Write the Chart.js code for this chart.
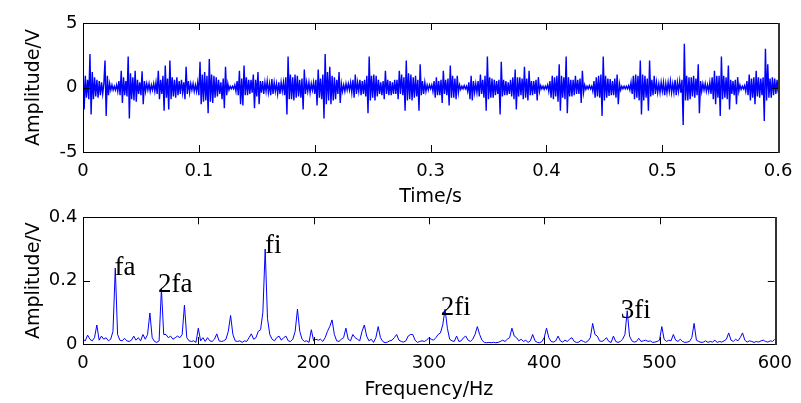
<!DOCTYPE html>
<html>
<head>
<meta charset="utf-8">
<script src="https://cdn.jsdelivr.net/npm/chart.js@4"></script>
<style>
  html, body { margin: 0; padding: 0; background: #fff; }
  #wrap { position: relative; width: 801px; height: 403px; overflow: hidden; }
  #wave, #spec { position: absolute; left: 0; }
  #wave { top: 0; }
  #spec { top: 200px; }
</style>
</head>
<body>
<div id="wrap">
  <canvas id="wave" width="801" height="210"></canvas>
  <canvas id="spec" width="801" height="203"></canvas>
</div>
<script>
// time signal, one sample per millisecond (0 .. 0.6 s)
const sampleTime = 0.001;
const amplitude = [
  1.6,-1.7,0.9,-0.8,0.6,-0.9,2.6,-2.1,1.2,-0.9,
  0.8,-0.7,0.6,-0.8,0.5,-0.6,0.4,-0.5,0.3,2.1,
  -2.2,0.9,-0.6,0.3,-0.2,0.2,-0.2,0.1,-0.2,0.2,
  -0.3,0.5,-0.6,1.3,-1.2,0.8,-0.6,0.5,-0.7,2.4,
  -2.4,1.1,-0.9,0.8,-1.0,1.3,-1.1,0.6,-0.5,0.4,
  -0.6,1.25,-1.3,0.5,-0.3,0.3,-0.2,0.3,-0.3,0.2,
  -0.2,0.3,-0.3,0.4,-0.5,1.3,-0.9,0.6,-0.5,0.9,
  -1.8,1.7,-0.8,0.7,-1.7,2.1,-0.9,0.8,-0.7,0.6,
  -0.8,0.8,-0.6,0.5,-0.5,0.6,-0.4,0.4,-0.9,1.6,
  -0.5,0.5,-0.4,0.3,-0.2,0.3,-0.3,0.2,-0.3,0.4,
  -0.6,2.0,-1.3,1.0,-1.1,1.2,-1.0,0.9,-2.0,2.2,
  -1.1,1.0,-1.2,0.9,-0.8,0.8,-0.7,0.6,-0.5,0.4,
  -0.9,0.7,-1.6,1.6,-0.6,0.3,-0.2,0.1,-0.1,0.1,
  -0.1,0.2,-0.3,0.5,-0.6,1.3,-1.3,0.7,-1.4,1.7,
  -0.6,0.8,-0.6,0.6,-0.5,0.6,-0.4,1.0,-1.6,0.6,
  -0.7,1.2,-1.3,0.5,-0.4,0.5,-0.5,0.4,-0.3,0.5,
  -0.4,0.3,-0.6,0.65,-0.5,0.4,-0.3,0.3,-0.5,0.4,
  -0.5,0.4,-0.3,0.4,-0.6,0.8,-2.1,2.4,-0.9,1.0,
  -0.9,0.8,-1.0,1.0,-0.8,0.9,-0.7,0.6,-0.8,0.7,
  -1.7,1.4,-0.5,0.4,-0.3,0.4,-0.4,0.3,-0.2,0.4,
  -0.5,0.6,-1.4,1.4,-0.8,0.7,-0.9,1.0,-2.4,2.6,
  -1.3,1.2,-1.0,1.6,-1.3,0.9,-1.0,0.8,-0.9,0.6,
  -0.5,1.2,-1.2,0.3,-0.3,0.2,-0.3,0.3,-0.2,0.3,
  -0.2,0.4,-0.4,0.6,-0.8,1.0,-0.5,0.4,-0.3,0.6,
  -0.6,0.5,-0.5,0.6,-0.7,0.9,-2.0,2.4,-1.0,0.9,
  -0.8,1.0,-1.0,0.9,-0.7,0.6,-0.5,0.4,-0.6,0.5,
  -0.9,1.3,-0.5,0.6,-0.6,0.5,-0.6,0.4,-0.5,0.6,
  -0.5,0.6,-0.9,1.3,-0.5,1.0,-0.6,0.8,-1.8,2.1,
  -1.0,1.1,-0.9,1.0,-1.0,0.8,-0.8,0.9,-0.7,0.6,
  -1.8,1.8,-0.6,0.5,-0.5,0.4,-0.3,0.2,-0.2,0.2,
  -0.1,0.2,-0.3,0.5,-0.8,0.8,-0.6,0.5,-0.6,0.6,
  -1.2,1.3,-0.5,0.6,-0.6,0.7,-1.4,1.7,-0.8,0.9,
  -0.8,0.7,-0.9,0.9,-0.4,0.2,-0.15,0.1,-0.1,0.15,
  -0.1,0.1,-0.3,0.4,-0.9,0.9,-1.0,0.5,-0.4,0.3,
  -0.4,0.5,-0.7,1.0,-0.5,0.6,-0.8,0.9,-1.8,2.4,
  -0.9,0.8,-0.8,0.7,-0.8,0.6,-0.6,0.5,-0.5,0.6,
  -2.1,2.0,-0.7,0.6,-0.6,0.5,-0.6,0.4,-0.5,0.6,
  -0.7,0.8,-0.9,1.4,-1.7,0.8,-0.7,0.8,-0.6,0.7,
  -0.9,1.6,-0.8,0.7,-1.0,1.3,-0.6,0.5,-0.6,0.5,
  -0.5,0.6,-1.0,0.8,-0.3,0.15,-0.1,0.1,-0.15,0.1,
  -0.1,0.2,-0.3,0.5,-0.8,0.9,-0.9,0.8,-0.7,0.9,
  -1.1,1.8,-1.8,0.9,-0.8,0.8,-0.9,2.4,-2.0,0.8,
  -0.7,0.6,-0.7,0.6,-0.6,0.9,-0.5,0.6,-0.5,0.7,
  -1.2,1.3,-0.4,0.2,-0.15,0.1,-0.1,0.15,-0.1,0.1,
  -0.3,0.5,-0.8,0.8,-0.7,0.9,-0.8,1.0,-2.2,2.4,
  -1.0,0.9,-0.8,0.7,-0.65,0.65,-0.6,0.5,-0.6,0.7,
  -0.8,1.0,-1.3,0.3,-0.2,0.1,-0.1,0.1,-0.1,0.1,
  -0.1,0.15,-0.2,0.4,-0.5,0.9,-0.9,1.0,-0.8,0.9,
  -1.0,2.1,-2.1,1.0,-1.0,0.9,-0.8,0.7,-1.8,2.1,
  -0.7,0.6,-0.6,0.9,-0.5,0.4,-0.4,0.3,-0.4,0.4,
  -0.3,0.4,-0.6,0.3,-0.4,0.4,-0.3,0.5,-0.4,0.3,
  -0.4,0.6,-0.6,0.4,-0.3,0.5,-0.4,0.6,-2.9,3.4,
  -1.0,0.9,-1.0,0.8,-0.9,0.8,-0.7,0.9,-0.8,0.7,
  -0.6,1.8,-2.0,0.5,-0.3,0.3,-0.2,0.3,-0.3,0.2,
  -0.3,0.4,-0.5,0.8,-0.9,1.3,-1.3,0.9,-0.8,0.9,
  -2.2,2.4,-0.9,0.9,-0.8,0.8,-0.9,1.7,-1.7,0.6,
  -0.5,0.5,-0.6,0.6,-1.3,0.8,-0.3,0.2,-0.15,0.1,
  -0.1,0.15,-0.3,0.5,-0.6,1.0,-1.0,0.7,-0.8,0.8,
  -1.3,1.3,-0.7,0.8,-0.8,0.7,-0.6,0.8,-2.6,3.0,
  -1.0,1.8,-0.8,0.7,-0.8,0.8,-0.6,0.7,-0.5,0.6,
  -0.4
];

// amplitude spectrum, 2 Hz bins (0 .. 600 Hz)
const freqStep = 2;
const spectrum = [
  0.015,0.01,0.028,0.015,0.01,0.02,0.06,0.012,0.025,0.015,
  0.02,0.01,0.015,0.04,0.24,0.03,0.012,0.01,0.018,0.01,
  0.008,0.012,0.025,0.012,0.02,0.01,0.03,0.015,0.03,0.098,
  0.02,0.008,0.005,0.01,0.175,0.03,0.03,0.02,0.025,0.015,
  0.02,0.025,0.02,0.03,0.123,0.02,0.01,0.008,0.01,0.005,
  0.05,0.01,0.02,0.008,0.02,0.01,0.008,0.015,0.032,0.01,
  0.008,0.01,0.015,0.04,0.09,0.03,0.01,0.008,0.01,0.005,
  0.01,0.008,0.02,0.032,0.015,0.02,0.04,0.045,0.1,0.30,
  0.08,0.03,0.015,0.01,0.02,0.025,0.012,0.02,0.025,0.01,
  0.008,0.015,0.04,0.11,0.04,0.015,0.008,0.01,0.005,0.045,
  0.01,0.015,0.012,0.015,0.008,0.02,0.04,0.055,0.076,0.03,
  0.01,0.008,0.015,0.02,0.05,0.015,0.01,0.03,0.02,0.015,
  0.01,0.04,0.06,0.025,0.01,0.015,0.005,0.02,0.055,0.02,
  0.008,0.004,0.006,0.01,0.012,0.02,0.03,0.012,0.008,0.006,
  0.01,0.025,0.03,0.03,0.012,0.005,0.008,0.01,0.008,0.012,
  0.02,0.015,0.012,0.02,0.03,0.035,0.06,0.11,0.05,0.015,
  0.01,0.008,0.025,0.008,0.01,0.02,0.025,0.012,0.008,0.015,
  0.03,0.055,0.03,0.012,0.005,0.004,0.005,0.004,0.005,0.004,
  0.005,0.008,0.012,0.008,0.015,0.02,0.05,0.025,0.02,0.01,
  0.015,0.008,0.012,0.005,0.01,0.03,0.01,0.005,0.004,0.008,
  0.02,0.05,0.02,0.008,0.006,0.01,0.025,0.01,0.006,0.012,
  0.008,0.015,0.02,0.008,0.005,0.006,0.012,0.008,0.005,0.01,
  0.02,0.065,0.03,0.025,0.01,0.008,0.012,0.02,0.008,0.005,
  0.025,0.008,0.005,0.008,0.015,0.03,0.105,0.025,0.01,0.006,
  0.008,0.018,0.008,0.01,0.012,0.008,0.01,0.005,0.006,0.008,
  0.012,0.055,0.015,0.008,0.012,0.01,0.03,0.012,0.008,0.015,
  0.008,0.005,0.006,0.008,0.02,0.065,0.012,0.008,0.005,0.006,
  0.01,0.005,0.008,0.006,0.012,0.005,0.008,0.006,0.01,0.015,
  0.035,0.012,0.008,0.015,0.01,0.02,0.035,0.012,0.006,0.01,
  0.008,0.005,0.008,0.006,0.01,0.012,0.008,0.006,0.01,0.008,
  0.015
];

// axis ticks
const timeTicks = [0, 0.1, 0.2, 0.3, 0.4, 0.5, 0.6];
const waveTicks = [-5, 0, 5];
const freqTicks = [0, 100, 200, 300, 400, 500, 600];
const specTicks = [0, 0.2, 0.4];

// characteristic frequency labels (text anchor in data units)
const peakNames = ['fa', '2fa', 'fi', '2fi', '3fi'];
const peakLabelHz = [27.4, 65.1, 157.8, 310.3, 466.3];
const peakLabelAmp = [0.218, 0.165, 0.287, 0.092, 0.082];

const SANS = "'DejaVu Sans', sans-serif";
const tickFont = { family: SANS, size: 18, lineHeight: 1.2 };
const titleFont = { family: SANS, size: 19, lineHeight: 1.2 };

// MATLAB-like box with inward ticks on all four sides
const boxTicks = {
  id: 'boxTicks',
  afterDraw(chart) {
    const { ctx, chartArea: a, scales: { x, y } } = chart;
    const len = 7;
    ctx.save();
    ctx.strokeStyle = '#000';
    ctx.lineWidth = 1;
    ctx.beginPath();
    x.ticks.forEach(t => {
      const px = Math.round(x.getPixelForValue(t.value)) + 0.5;
      ctx.moveTo(px, a.bottom); ctx.lineTo(px, a.bottom - len);
      ctx.moveTo(px, a.top); ctx.lineTo(px, a.top + len);
    });
    y.ticks.forEach(t => {
      const py = Math.round(y.getPixelForValue(t.value)) + 0.5;
      ctx.moveTo(a.left, py); ctx.lineTo(a.left + len, py);
      ctx.moveTo(a.right, py); ctx.lineTo(a.right - len, py);
    });
    ctx.stroke();
    ctx.beginPath();
    ctx.moveTo(a.right, Math.round(a.top) + 0.5);
    ctx.lineTo(Math.round(a.left) + 0.5, Math.round(a.top) + 0.5);
    ctx.lineTo(Math.round(a.left) + 0.5, Math.round(a.bottom) + 0.5);
    ctx.lineTo(a.right, Math.round(a.bottom) + 0.5);
    ctx.stroke();
    ctx.lineWidth = 2;
    ctx.strokeStyle = '#333';
    ctx.beginPath();
    ctx.moveTo(Math.round(a.right) + 1, Math.round(a.top));
    ctx.lineTo(Math.round(a.right) + 1, Math.round(a.bottom) + 1);
    ctx.stroke();
    ctx.restore();
  }
};

const peakLabels = {
  id: 'peakLabels',
  afterDatasetsDraw(chart) {
    const { ctx, scales: { x, y } } = chart;
    ctx.save();
    ctx.font = "27px 'Liberation Serif', serif";
    ctx.fillStyle = '#000';
    ctx.textAlign = 'left';
    ctx.textBaseline = 'alphabetic';
    peakNames.forEach((name, i) => {
      ctx.fillText(name, x.getPixelForValue(peakLabelHz[i]), y.getPixelForValue(peakLabelAmp[i]));
    });
    ctx.restore();
  }
};

function axes(xr, yr, xTicks, yTicks, xTitle, xHeight, xPad, titlePadBottom) {
  return {
    x: {
      type: 'linear', min: xr[0], max: xr[1],
      afterBuildTicks: s => { s.ticks = xTicks.map(v => ({ value: v })); },
      afterFit: s => { s.height = xHeight; },
      grid: { display: false, drawTicks: false },
      border: { display: false },
      ticks: { font: tickFont, color: '#000', padding: xPad, maxRotation: 0, callback: v => String(v) },
      title: { display: true, text: xTitle, font: titleFont, color: '#000', padding: { top: 0, bottom: titlePadBottom } }
    },
    y: {
      type: 'linear', min: yr[0], max: yr[1],
      afterBuildTicks: s => { s.ticks = yTicks.map(v => ({ value: v })); },
      afterFit: s => { s.width = 83; },
      grid: { display: false, drawTicks: false },
      border: { display: false },
      ticks: { font: tickFont, color: '#000', padding: 5.5, callback: v => String(v) },
      title: { display: true, text: 'Amplitude/V', font: titleFont, color: '#000', padding: { top: 22.6, bottom: 0 } }
    }
  };
}

const common = {
  responsive: false,
  animation: false,
  events: [],
  plugins: { legend: { display: false }, tooltip: { enabled: false } },
  elements: { point: { radius: 0 }, line: { tension: 0 } }
};

new Chart(document.getElementById('wave'), {
  type: 'line',
  data: {
    datasets: [{
      data: amplitude.map((v, i) => ({ x: i * sampleTime, y: v })),
      borderColor: '#0000ff',
      borderWidth: 1.4
    }]
  },
  options: {
    ...common,
    layout: { padding: { left: 0, right: 18, top: 23, bottom: 0 } },
    scales: axes([0, 0.6], [-5, 5], timeTicks, waveTicks, 'Time/s', 58, 8.5, 1.6)
  },
  plugins: [boxTicks]
});

new Chart(document.getElementById('spec'), {
  type: 'line',
  data: {
    datasets: [{
      data: spectrum.map((v, i) => ({ x: i * freqStep, y: v })),
      borderColor: '#0000ff',
      borderWidth: 1
    }]
  },
  options: {
    ...common,
    layout: { padding: { left: 0, right: 18, top: 17.3, bottom: 0 } },
    scales: axes([0, 600], [0, 0.4], freqTicks, specTicks, 'Frequency/Hz', 59, 9, 1.6)
  },
  plugins: [peakLabels, boxTicks]
});
</script>
</body>
</html>
